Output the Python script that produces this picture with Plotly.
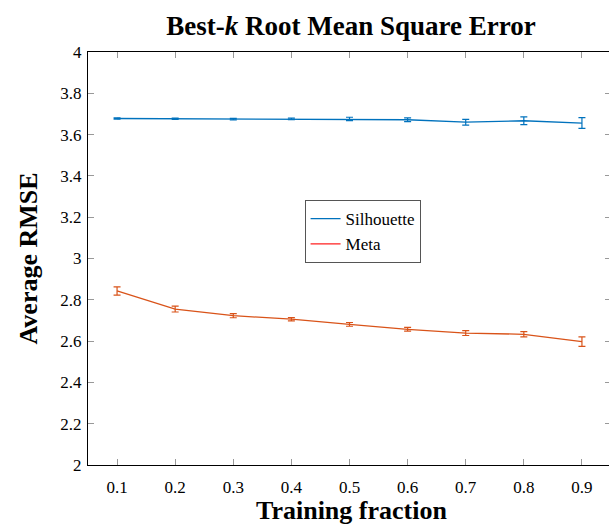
import plotly.graph_objects as go

fractions = [0.1, 0.2, 0.3, 0.4, 0.5, 0.6, 0.7, 0.8, 0.9]
silhouette = [3.678, 3.677, 3.675, 3.676, 3.676, 3.672, 3.660, 3.667, 3.656]
silhouette_err = [0.003, 0.003, 0.004, 0.004, 0.008, 0.009, 0.014, 0.019, 0.026]
meta = [2.843, 2.755, 2.723, 2.706, 2.681, 2.657, 2.639, 2.633, 2.597]
meta_err = [0.020, 0.014, 0.010, 0.008, 0.009, 0.009, 0.012, 0.013, 0.023]
y_ticks = [2, 2.2, 2.4, 2.6, 2.8, 3, 3.2, 3.4, 3.6, 3.8, 4]
y_ticktext = ["2", "2.2", "2.4", "2.6", "2.8", "3", "3.2", "3.4", "3.6", "3.8", "4"]
x_ticktext = ["0.1", "0.2", "0.3", "0.4", "0.5", "0.6", "0.7", "0.8", "0.9"]

blue = "#0072BD"
orange = "#D95319"
font = "Liberation Serif"

W, H = 611, 525
L, T, B = 88, 52, 60

fig = go.Figure()
fig.add_trace(go.Scatter(
    x=fractions, y=silhouette, mode="lines", line=dict(color=blue, width=1.3),
    error_y=dict(type="data", array=silhouette_err, color=blue, thickness=1.2, width=3.5),
    showlegend=False))
fig.add_trace(go.Scatter(
    x=fractions, y=meta, mode="lines", line=dict(color=orange, width=1.3),
    error_y=dict(type="data", array=meta_err, color=orange, thickness=1.2, width=3.5),
    showlegend=False))
# legend entries
fig.add_trace(go.Scatter(x=[None], y=[None], mode="lines", name="Silhouette",
                         line=dict(color=blue, width=1.3)))
fig.add_trace(go.Scatter(x=[None], y=[None], mode="lines", name="Meta",
                         line=dict(color="#ff2020", width=1.3)))
# invisible trace for right-side tick axis
fig.add_trace(go.Scatter(x=[None], y=[None], yaxis="y2", showlegend=False, hoverinfo="skip"))

fig.update_layout(
    width=W, height=H,
    margin=dict(l=L, r=0, t=T, b=B),
    plot_bgcolor="white", paper_bgcolor="white",
    font=dict(family=font, color="black", size=17),
    title=dict(text="<b>Best-<i>k</i> Root Mean Square Error</b>", xref="paper", x=0.503,
               xanchor="center", yref="container", y=1 - 26 / H, yanchor="middle",
               font=dict(size=27, family=font)),
    legend=dict(x=0.525, y=0.565, xanchor="center", yanchor="middle",
                bordercolor="#555555", borderwidth=1, bgcolor="white",
                font=dict(size=17, family=font), tracegroupgap=0, itemwidth=30),
    showlegend=True,
    annotations=[
        dict(text="<b>Training fraction</b>", xref="paper", yref="paper",
             x=0.503, y=-(510 - (H - B)) / (H - T - B), xanchor="center", yanchor="middle",
             showarrow=False, font=dict(size=26, family=font)),
        dict(text="<b>Average RMSE</b>", xref="paper", yref="paper", textangle=-90,
             x=-(L - 28) / (W - L), y=0.5, xanchor="center", yanchor="middle",
             showarrow=False, font=dict(size=26, family=font)),
    ],
    yaxis2=dict(overlaying="y", side="right", range=[2, 4], tickvals=y_ticks,
                showticklabels=False, showline=False, showgrid=False, zeroline=False,
                ticks="inside", ticklen=6, tickcolor="#999999", tickwidth=1),
)
fig.update_xaxes(
    range=[0.05, 0.95], tickvals=fractions, ticktext=x_ticktext,
    showline=True, linecolor="black", linewidth=1.3, mirror="ticks",
    ticks="inside", ticklen=6, tickcolor="#999999", tickwidth=1,
    showgrid=False, zeroline=False, ticklabelstandoff=6,
    tickfont=dict(size=17),
)
fig.update_layout(yaxis=dict(
    range=[2, 4], tickvals=y_ticks, ticktext=y_ticktext,
    showline=True, linecolor="black", linewidth=1.3, mirror=False,
    ticks="inside", ticklen=6, tickcolor="#999999", tickwidth=1,
    showgrid=False, zeroline=False, ticklabelstandoff=2,
    tickfont=dict(size=17),
))

fig.write_html(
    "out.html",
    config={"displayModeBar": False},
    post_script="document.body.style.margin='0';document.body.style.overflow='hidden';",
)
